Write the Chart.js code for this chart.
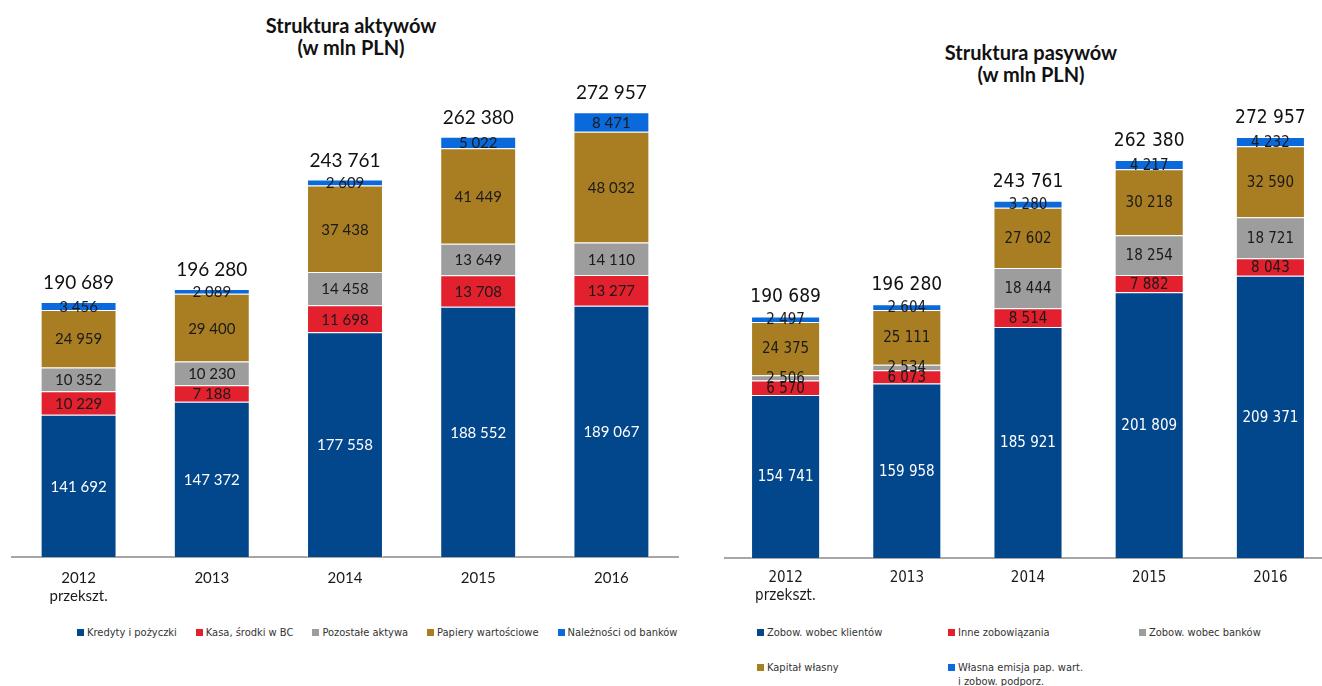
<!DOCTYPE html>
<html lang="pl">
<head>
<meta charset="UTF-8">
<title>Struktura aktywów i pasywów</title>
<style>
  body { margin: 0; width: 1322px; height: 686px; overflow: hidden; background: #fff; position: relative; }
  .box { position: absolute; top: 0; height: 620px; }
  .title { position: absolute; font: bold 20px Lato, sans-serif; color: #111; text-align: center; line-height: 22px; white-space: nowrap; transform: translateX(-50%); }
  .legend { position: absolute; font: 11px "DejaVu Sans Condensed", sans-serif; color: #333; }
  .legend .item { display: flex; align-items: flex-start; line-height: 14px; }
  .legend .sw { width: 7px; height: 7px; margin: 3px 3px 0 0; flex: none; }
  #legendA { left: 77px; top: 626px; display: flex; gap: 19px; }
  #legendP { left: 757px; top: 626px; display: grid; grid-template-columns: 191px 191px 191px; row-gap: 21px; }
</style>
</head>
<body>
<div class="title" style="left:351px; top:14px">Struktura aktywów<br>(w mln PLN)</div>
<div class="title" style="left:1031px; top:41px">Struktura pasywów<br>(w mln PLN)</div>

<div class="box" style="left:0; width:690px"><canvas id="aktywa"></canvas></div>
<div class="box" style="left:700px; width:640px"><canvas id="pasywa"></canvas></div>

<div class="legend" id="legendA"></div>
<div class="legend" id="legendP"></div>

<script src="https://cdn.jsdelivr.net/npm/chart.js@4.4.7/dist/chart.umd.min.js"></script>
<script>
// lata
const years = [['2012', 'przekszt.'], '2013', '2014', '2015', '2016'];

// aktywa (mln PLN)
const assetNames = ['Kredyty i pożyczki', 'Kasa, środki w BC', 'Pozostałe aktywa', 'Papiery wartościowe', 'Należności od banków'];
const kredyty = [141692, 147372, 177558, 188552, 189067];
const kasa = [10229, 7188, 11698, 13708, 13277];
const pozostaleAktywa = [10352, 10230, 14458, 13649, 14110];
const papiery = [24959, 29400, 37438, 41449, 48032];
const naleznosci = [3456, 2089, 2609, 5022, 8471];
const sumaAktywow = [190689, 196280, 243761, 262380, 272957];

// pasywa (mln PLN)
const liabNames = ['Zobow. wobec klientów', 'Inne zobowiązania', 'Zobow. wobec banków', 'Kapitał własny', 'Własna emisja pap. wart.\ni zobow. podporz.'];
const zobKlienci = [154741, 159958, 185921, 201809, 209371];
const inneZob = [6570, 6073, 8514, 7882, 8043];
const zobBanki = [2506, 2534, 18444, 18254, 18721];
const kapital = [24375, 25111, 27602, 30218, 32590];
const emisja = [2497, 2604, 3280, 4217, 4232];
const sumaPasywow = [190689, 196280, 243761, 262380, 272957];

const colors = ['#02468b', '#e3202e', '#9d9d9d', '#a97e23', '#0a69db'];

const fmt = v => String(v).replace(/\B(?=(\d{3})+(?!\d))/g, ' ');

// podpisy segmentów i sumy nad słupkami
const barLabels = {
  id: 'barLabels',
  afterDatasetsDraw(chart, args, opts) {
    const { ctx, chartArea } = chart;
    ctx.save();
    ctx.textAlign = 'center';
    ctx.textBaseline = 'middle';
    ctx.font = opts.font;
    chart.data.datasets.forEach((ds, i) => {
      chart.getDatasetMeta(i).data.forEach((bar, j) => {
        const top = Math.max(bar.y, chartArea.top);
        const bottom = Math.min(bar.base, chartArea.bottom);
        ctx.fillStyle = i === 0 ? '#ffffff' : '#1a1a1a';
        ctx.fillText(fmt(ds.data[j]), bar.x, (top + bottom) / 2 + 1);
      });
    });
    const last = chart.getDatasetMeta(chart.data.datasets.length - 1);
    ctx.font = opts.totalFont;
    ctx.fillStyle = '#111';
    last.data.forEach((bar, j) => {
      ctx.fillText(fmt(opts.totals[j]), bar.x, bar.y - 19);
    });
    ctx.restore();
  }
};

function makeChart(id, names, series, totals, o) {
  return new Chart(document.getElementById(id), {
    type: 'bar',
    data: {
      labels: years,
      datasets: series.map((data, i) => ({
        label: names[i],
        data: data,
        backgroundColor: colors[i],
        borderColor: 'rgba(255,255,255,0.55)',
        borderWidth: 1,
        categoryPercentage: 1,
        barPercentage: 0.57
      }))
    },
    options: {
      responsive: true,
      maintainAspectRatio: false,
      animation: false,
      layout: { padding: o.padding },
      plugins: {
        legend: { display: false },
        tooltip: { enabled: false },
        barLabels: { font: o.font, totalFont: o.totalFont, totals: totals }
      },
      scales: {
        x: {
          stacked: true,
          grid: { display: false, drawTicks: false },
          border: { display: true, color: '#a6a6a6', width: 2 },
          ticks: { color: '#1a1a1a', font: o.tickFont, padding: o.tickPadding, maxRotation: 0 }
        },
        y: {
          stacked: true,
          display: false,
          min: 80000,
          max: 300000
        }
      }
    },
    plugins: [barLabels]
  });
}

makeChart('aktywa', assetNames, [kredyty, kasa, pozostaleAktywa, papiery, naleznosci], sumaAktywow, {
  padding: { top: 50, left: 12, right: 12, bottom: 3 },
  font: '15px Lato',
  totalFont: '19px Lato',
  tickFont: { family: 'Lato', size: 15 },
  tickPadding: 12
});

makeChart('pasywa', liabNames, [zobKlienci, inneZob, zobBanki, kapital, emisja], sumaPasywow, {
  padding: { top: 78, left: 25, right: 9, bottom: 4 },
  font: '15px "DejaVu Sans Condensed", sans-serif',
  totalFont: '19px "DejaVu Sans Condensed", sans-serif',
  tickFont: { family: '"DejaVu Sans Condensed", sans-serif', size: 15 },
  tickPadding: 11
});

// legendy
function buildLegend(elId, names) {
  const el = document.getElementById(elId);
  names.forEach((name, i) => {
    const item = document.createElement('div');
    item.className = 'item';
    const sw = document.createElement('span');
    sw.className = 'sw';
    sw.style.background = colors[i];
    const txt = document.createElement('span');
    txt.innerHTML = name.split('\n').join('<br>');
    item.appendChild(sw);
    item.appendChild(txt);
    el.appendChild(item);
  });
}
buildLegend('legendA', assetNames);
buildLegend('legendP', liabNames);
</script>
</body>
</html>
